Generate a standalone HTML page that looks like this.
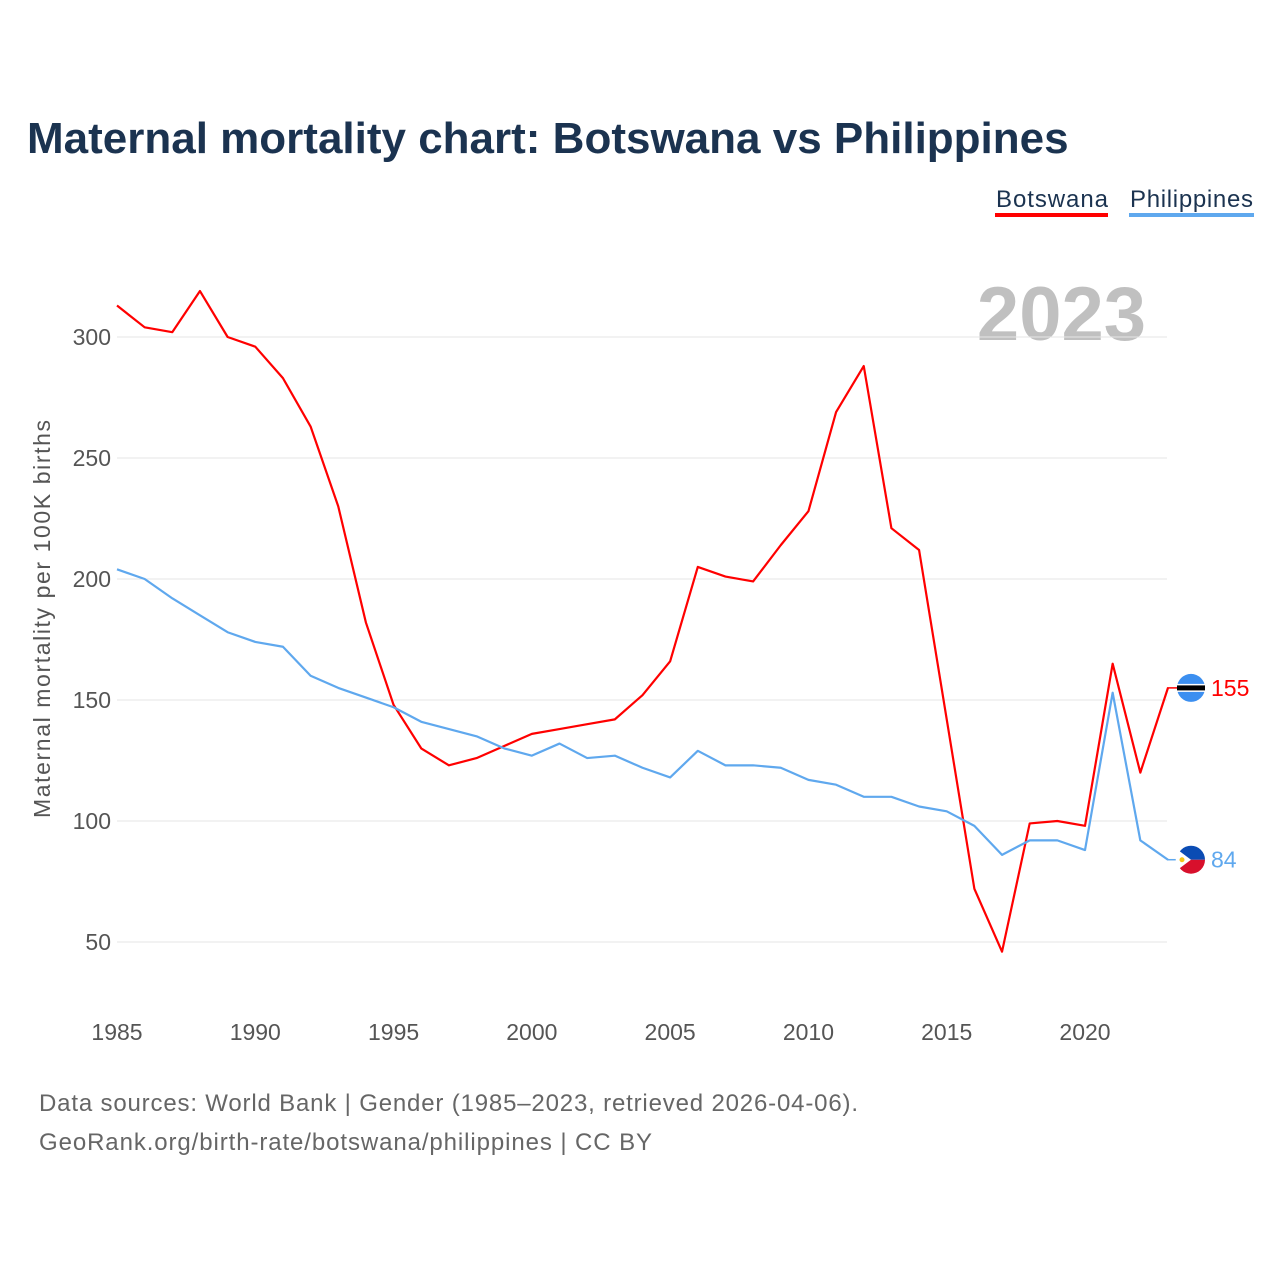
<!DOCTYPE html>
<html><head><meta charset="utf-8"><style>
body{margin:0;background:#fff;}
svg text{font-family:"Liberation Sans",sans-serif;}
</style></head><body>
<svg width="1280" height="1280" xmlns="http://www.w3.org/2000/svg">
<text x="27" y="153" font-size="44" font-weight="bold" fill="#1b3350">Maternal mortality chart: Botswana vs Philippines</text>
<g><text x="996" y="207" font-size="24" fill="#1b3350" textLength="112">Botswana</text><rect x="995" y="213" width="113" height="4" fill="#f00"/></g>
<g><text x="1130" y="207" font-size="24" fill="#1b3350" textLength="123">Philippines</text><rect x="1129" y="213" width="125" height="4" fill="#5fa8ee"/></g>
<text x="1146" y="340" font-size="76" font-weight="bold" fill="#c0c0c0" text-anchor="end">2023</text>
<g id="grid"></g>
<g id="yt"></g>
<g id="xt"></g>
<text transform="translate(50,619) rotate(-90)" font-size="23" fill="#555" text-anchor="middle" textLength="398">Maternal mortality per 100K births</text>
<g id="lines"></g>
<text x="39" y="1111" font-size="24" fill="#666" textLength="819">Data sources: World Bank | Gender (1985–2023, retrieved 2026-04-06).</text>
<text x="39" y="1150" font-size="24" fill="#666" textLength="613">GeoRank.org/birth-rate/botswana/philippines | CC BY</text>
</svg>
<script>
const years=[];for(let y=1985;y<=2023;y++)years.push(y);
const botswana=[313,304,302,319,300,296,283,263,230,182,148,130,123,126,131,136,138,140,142,152,166,205,201,199,214,228,269,288,221,212,142,72,46,99,100,98,165,120,155];
const philippines=[204,200,192,185,178,174,172,160,155,151,147,141,138,135,130,127,132,126,127,122,118,129,123,123,122,117,115,110,110,106,104,98,86,92,92,88,153,92,84];
const yTicks=[50,100,150,200,250,300];
const xTicks=[1985,1990,1995,2000,2005,2010,2015,2020];
const NS="http://www.w3.org/2000/svg";
const xs=y=>117+(y-1985)*(1085-117)/35;
const ys=v=>337+(300-v)*(942-337)/250;
function mk(t,a,p){const e=document.createElementNS(NS,t);for(const k in a)e.setAttribute(k,a[k]);p.appendChild(e);return e;}
const grid=document.getElementById('grid'),yt=document.getElementById('yt'),xt=document.getElementById('xt'),lines=document.getElementById('lines');
yTicks.forEach(v=>{mk('line',{x1:117,x2:1167,y1:ys(v),y2:ys(v),stroke:'#e6e6e6','stroke-width':1},grid);
const t=mk('text',{x:111,y:ys(v)+8,'font-size':23,fill:'#555','text-anchor':'end'},yt);t.textContent=v;

});
xTicks.forEach(v=>{const t=mk('text',{x:xs(v),y:1040,'font-size':23,fill:'#555','text-anchor':'middle'},xt);t.textContent=v;

});
function series(d,c,name){const p=mk('polyline',{points:d.map((v,i)=>xs(years[i])+','+ys(v)).join(' '),fill:'none',stroke:c,'stroke-width':2.2,'stroke-linejoin':'round'},lines);


const last=d[d.length-1],y=ys(last);
mk('line',{x1:1167,x2:1178,y1:y,y2:y,stroke:c,'stroke-width':1.5},lines);
const t=mk('text',{x:1211,y:y+8,'font-size':23,fill:c},lines);t.textContent=last;


return y;}
const yb=series(botswana,'#f00','botswana');
const yp=series(philippines,'#5fa8ee','philippines');
const fb=mk('g',{},lines);


mk('circle',{cx:1191,cy:yb,r:14,fill:'#3c8ff0'},fb);
mk('rect',{x:1177,y:yb-4,width:28,height:8,fill:'#fff'},fb);
mk('rect',{x:1177,y:yb-2.5,width:28,height:5,fill:'#000'},fb);
const fp=mk('g',{},lines);


mk('path',{d:`M1177 ${yp} A14 14 0 0 1 1205 ${yp} Z`,fill:'#0b4cb4'},fp);
mk('path',{d:`M1177 ${yp} A14 14 0 0 0 1205 ${yp} Z`,fill:'#d8102c'},fp);
mk('path',{d:`M1179 ${yp-9} L1191 ${yp} L1179 ${yp+9} A14 14 0 0 1 1179 ${yp-9} Z`,fill:'#fff'},fp);
mk('circle',{cx:1182,cy:yp,r:2.5,fill:'#f5c518'},fp);
</script>
</body></html>
